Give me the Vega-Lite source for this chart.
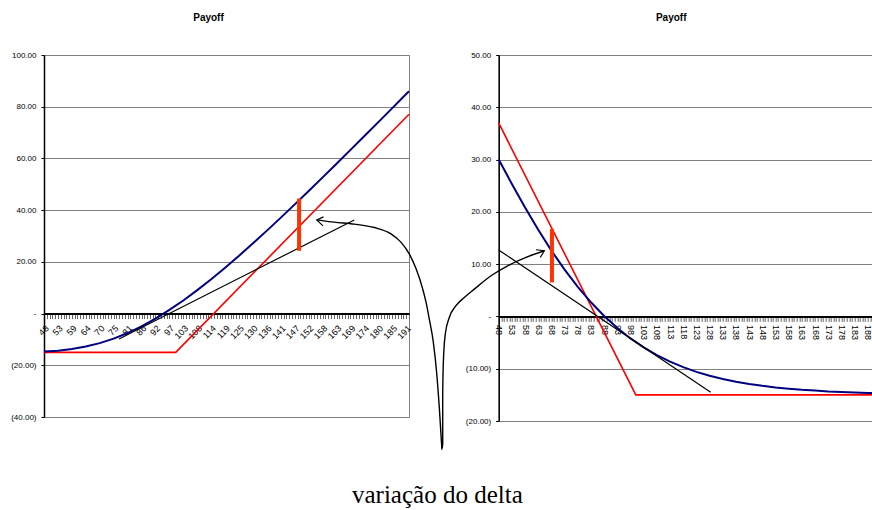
{
  "$schema": "https://vega.github.io/schema/vega-lite/v6.json",
  "background": "white",
  "padding": {"left": 10, "top": 12, "right": 0, "bottom": 0},
  "bounds": "flush",
  "spacing": 89.7,
  "title": {
    "text": "variação do delta",
    "orient": "bottom",
    "anchor": "start",
    "dx": 308,
    "font": "Liberation Serif",
    "fontSize": 25,
    "fontWeight": "normal",
    "color": "black",
    "offset": 30
  },
  "config": {
    "view": {"stroke": "#808080", "strokeWidth": 1},
    "axis": {
      "labelFont": "Liberation Sans",
      "labelFontSize": 8,
      "labelColor": "black",
      "grid": false,
      "title": null,
      "domainColor": "black",
      "tickColor": "black"
    },
    "axisY": {
      "grid": true,
      "gridColor": "#808080",
      "gridWidth": 1,
      "gridOpacity": 1,
      "domainWidth": 1.5,
      "tickSize": 3,
      "labelPadding": 5,
      "labelExpr": "datum.value < 0 ? '(' + format(-datum.value, '.2f') + ')' : (datum.value == 0 ? '-\u00a0\u00a0\u00a0\u00a0' : format(datum.value, '.2f'))"
    },
    "axisX": {
      "domainWidth": 2,
      "tickColor": "#666666",
      "tickSize": 5,
      "labelFontSize": 9,
      "labelOverlap": false,
      "labelBound": false,
      "labelFlush": false
    },
    "title": {
      "font": "Liberation Sans",
      "fontSize": 10,
      "fontWeight": "bold",
      "color": "black",
      "anchor": "middle",
      "frame": "group",
      "offset": 28
    }
  },
  "datasets": {
    "callPayoff": [
      {"S": 48, "v": -15},
      {"S": 100, "v": -15},
      {"S": 192.1, "v": 77.1}
    ],
    "callValue": [
      {"S": 48, "v": -14.71}, {"S": 53.5, "v": -14.34}, {"S": 59, "v": -13.71},
      {"S": 64.5, "v": -12.77}, {"S": 70, "v": -11.44}, {"S": 75.5, "v": -9.69},
      {"S": 81, "v": -7.53}, {"S": 86.5, "v": -4.95}, {"S": 92, "v": -1.95},
      {"S": 97.5, "v": 1.4}, {"S": 103, "v": 5.07}, {"S": 108.5, "v": 9.06},
      {"S": 114, "v": 13.28}, {"S": 119.5, "v": 17.74}, {"S": 125, "v": 22.37},
      {"S": 130.5, "v": 27.16}, {"S": 136, "v": 32.08}, {"S": 141.5, "v": 37.11},
      {"S": 147, "v": 42.23}, {"S": 152.5, "v": 47.42}, {"S": 158, "v": 52.66},
      {"S": 163.5, "v": 57.96}, {"S": 169, "v": 63.3}, {"S": 174.5, "v": 68.67},
      {"S": 180, "v": 74.05}, {"S": 185.5, "v": 79.46}, {"S": 191, "v": 84.89},
      {"S": 192.1, "v": 85.98}
    ],
    "callTangent": [
      {"S": 77.6, "v": -9.8},
      {"S": 170.5, "v": 36.2}
    ],
    "callBar": [
      {"S": 148.7, "v": 44.5},
      {"S": 148.7, "v": 24.3}
    ],
    "callArrow": [
      {"k": 0, "S": 155.7, "v": 36.25}, {"k": 1, "S": 162.6, "v": 35.36},
      {"k": 2, "S": 170.5, "v": 34.58}, {"k": 3, "S": 178.4, "v": 33.27},
      {"k": 4, "S": 185.0, "v": 30.83}, {"k": 5, "S": 188.9, "v": 27.62},
      {"k": 6, "S": 192.2, "v": 23.09}, {"k": 7, "S": 194.9, "v": 17.29},
      {"k": 8, "S": 197.5, "v": 9.55}, {"k": 9, "S": 198.8, "v": 4.53},
      {"k": 10, "S": 200.1, "v": -2.05}, {"k": 11, "S": 201.7, "v": -11.06},
      {"k": 12, "S": 203.0, "v": -22.67}, {"k": 13, "S": 204.1, "v": -36.87},
      {"k": 14, "S": 205.1, "v": -52.61}
    ],
    "callArrowHead": [
      {"k": 0, "S": 158.34, "v": 37.41},
      {"k": 1, "S": 155.7, "v": 36.25},
      {"k": 2, "S": 158.15, "v": 33.93}
    ],
    "putPayoff": [
      {"S": 48, "v": 37},
      {"S": 100, "v": -15},
      {"S": 191, "v": -15}
    ],
    "putValue": [
      {"S": 48, "v": 30.03}, {"S": 53, "v": 25.33}, {"S": 58, "v": 20.83},
      {"S": 63, "v": 16.57}, {"S": 68, "v": 12.59}, {"S": 73, "v": 8.95},
      {"S": 78, "v": 5.66}, {"S": 83, "v": 2.7}, {"S": 88, "v": 0.08},
      {"S": 93, "v": -2.22}, {"S": 98, "v": -4.21}, {"S": 103, "v": -5.92},
      {"S": 108, "v": -7.4}, {"S": 113, "v": -8.63}, {"S": 118, "v": -9.7},
      {"S": 123, "v": -10.6}, {"S": 128, "v": -11.34}, {"S": 133, "v": -11.97},
      {"S": 138, "v": -12.5}, {"S": 143, "v": -12.92}, {"S": 148, "v": -13.28},
      {"S": 153, "v": -13.58}, {"S": 158, "v": -13.82}, {"S": 163, "v": -14.04},
      {"S": 168, "v": -14.19}, {"S": 173, "v": -14.35}, {"S": 178, "v": -14.45},
      {"S": 183, "v": -14.56}, {"S": 188, "v": -14.64}, {"S": 191, "v": -14.67}
    ],
    "putTangent": [
      {"S": 48, "v": 12.7},
      {"S": 128.4, "v": -14.5}
    ],
    "putBar": [
      {"S": 68.2, "v": 16.7},
      {"S": 68.2, "v": 6.5}
    ],
    "putArrow": [
      {"k": 0, "S": 26.49, "v": -25.18}, {"k": 1, "S": 26.76, "v": -24.42},
      {"k": 2, "S": 26.76, "v": -15.49}, {"k": 3, "S": 26.98, "v": -9.12},
      {"k": 4, "S": 27.74, "v": -3.38}, {"k": 5, "S": 29.26, "v": -0.19},
      {"k": 6, "S": 31.8, "v": 2.05}, {"k": 7, "S": 34.95, "v": 3.63},
      {"k": 8, "S": 38.74, "v": 5.22}, {"k": 9, "S": 45.08, "v": 7.78},
      {"k": 10, "S": 51.41, "v": 9.69}, {"k": 11, "S": 57.71, "v": 11.15},
      {"k": 12, "S": 65.3, "v": 12.56}
    ],
    "putArrowHead": [
      {"k": 0, "S": 62.15, "v": 12.75},
      {"k": 1, "S": 65.3, "v": 12.56},
      {"k": 2, "S": 63.78, "v": 11.28}
    ]
  },
  "hconcat": [
    {
      "title": {"text": "Payoff", "dx": -18},
      "width": 365,
      "height": 362,
      "encoding": {
        "x": {
          "field": "S",
          "type": "quantitative",
          "scale": {"domain": [48, 192.1], "nice": false, "zero": false},
          "axis": {
            "offset": -103.4,
            "labelAngle": -45,
            "labelPadding": 5,
            "values": [48, 49.1, 50.2, 51.3, 52.4, 53.5, 54.6, 55.7, 56.8, 57.9, 59, 60.1, 61.2, 62.3, 63.4, 64.5, 65.6, 66.7, 67.8, 68.9, 70, 71.1, 72.2, 73.3, 74.4, 75.5, 76.6, 77.7, 78.8, 79.9, 81, 82.1, 83.2, 84.3, 85.4, 86.5, 87.6, 88.7, 89.8, 90.9, 92, 93.1, 94.2, 95.3, 96.4, 97.5, 98.6, 99.7, 100.8, 101.9, 103, 104.1, 105.2, 106.3, 107.4, 108.5, 109.6, 110.7, 111.8, 112.9, 114, 115.1, 116.2, 117.3, 118.4, 119.5, 120.6, 121.7, 122.8, 123.9, 125, 126.1, 127.2, 128.3, 129.4, 130.5, 131.6, 132.7, 133.8, 134.9, 136, 137.1, 138.2, 139.3, 140.4, 141.5, 142.6, 143.7, 144.8, 145.9, 147, 148.1, 149.2, 150.3, 151.4, 152.5, 153.6, 154.7, 155.8, 156.9, 158, 159.1, 160.2, 161.3, 162.4, 163.5, 164.6, 165.7, 166.8, 167.9, 169, 170.1, 171.2, 172.3, 173.4, 174.5, 175.6, 176.7, 177.8, 178.9, 180, 181.1, 182.2, 183.3, 184.4, 185.5, 186.6, 187.7, 188.8, 189.9, 191, 192.1],
            "labelExpr": "round((datum.value - 48) / 1.1) % 5 == 0 ? '' + floor(datum.value + 0.001) : ''"
          }
        },
        "y": {
          "field": "v",
          "type": "quantitative",
          "scale": {"domain": [-40, 100], "nice": false, "zero": false},
          "axis": {"values": [-40, -20, 0, 20, 40, 60, 80, 100]}
        }
      },
      "layer": [
        {"data": {"name": "callPayoff"}, "mark": {"type": "line", "color": "#FF0000", "strokeWidth": 1.6, "clip": false}},
        {"data": {"name": "callValue"}, "mark": {"type": "line", "color": "#000080", "strokeWidth": 2, "clip": false}},
        {"data": {"name": "callTangent"}, "mark": {"type": "line", "color": "black", "strokeWidth": 1.2, "clip": false}},
        {"data": {"name": "callBar"}, "mark": {"type": "line", "color": "#FF3300", "strokeWidth": 4, "strokeCap": "butt", "clip": false}},
        {"data": {"name": "callArrow"}, "mark": {"type": "line", "color": "black", "strokeWidth": 1.4, "clip": false, "interpolate": "monotone"}, "encoding": {"order": {"field": "k", "type": "quantitative"}}},
        {"data": {"name": "callArrowHead"}, "mark": {"type": "line", "color": "black", "strokeWidth": 1.2, "clip": false}, "encoding": {"order": {"field": "k", "type": "quantitative"}}}
      ]
    },
    {
      "title": {"text": "Payoff", "dx": -16},
      "width": 377,
      "height": 366,
      "encoding": {
        "x": {
          "field": "S",
          "type": "quantitative",
          "scale": {"domain": [48, 191], "nice": false, "zero": false},
          "axis": {
            "offset": -104.6,
            "labelAngle": 90,
            "labelPadding": 3,
            "values": [48, 49, 50, 51, 52, 53, 54, 55, 56, 57, 58, 59, 60, 61, 62, 63, 64, 65, 66, 67, 68, 69, 70, 71, 72, 73, 74, 75, 76, 77, 78, 79, 80, 81, 82, 83, 84, 85, 86, 87, 88, 89, 90, 91, 92, 93, 94, 95, 96, 97, 98, 99, 100, 101, 102, 103, 104, 105, 106, 107, 108, 109, 110, 111, 112, 113, 114, 115, 116, 117, 118, 119, 120, 121, 122, 123, 124, 125, 126, 127, 128, 129, 130, 131, 132, 133, 134, 135, 136, 137, 138, 139, 140, 141, 142, 143, 144, 145, 146, 147, 148, 149, 150, 151, 152, 153, 154, 155, 156, 157, 158, 159, 160, 161, 162, 163, 164, 165, 166, 167, 168, 169, 170, 171, 172, 173, 174, 175, 176, 177, 178, 179, 180, 181, 182, 183, 184, 185, 186, 187, 188, 189, 190, 191],
            "labelExpr": "(datum.value - 48) % 5 == 0 && datum.value <= 188 ? '' + datum.value : ''"
          }
        },
        "y": {
          "field": "v",
          "type": "quantitative",
          "scale": {"domain": [-20, 50], "nice": false, "zero": false},
          "axis": {"values": [-20, -10, 0, 10, 20, 30, 40, 50]}
        }
      },
      "layer": [
        {"data": {"name": "putPayoff"}, "mark": {"type": "line", "color": "#FF0000", "strokeWidth": 1.6, "clip": false}},
        {"data": {"name": "putValue"}, "mark": {"type": "line", "color": "#000080", "strokeWidth": 2, "clip": false}},
        {"data": {"name": "putTangent"}, "mark": {"type": "line", "color": "black", "strokeWidth": 1.2, "clip": false}},
        {"data": {"name": "putBar"}, "mark": {"type": "line", "color": "#FF3300", "strokeWidth": 4, "strokeCap": "butt", "clip": false}},
        {"data": {"name": "putArrow"}, "mark": {"type": "line", "color": "black", "strokeWidth": 1.4, "clip": false, "interpolate": "monotone"}, "encoding": {"order": {"field": "k", "type": "quantitative"}}},
        {"data": {"name": "putArrowHead"}, "mark": {"type": "line", "color": "black", "strokeWidth": 1.2, "clip": false}, "encoding": {"order": {"field": "k", "type": "quantitative"}}}
      ]
    }
  ]
}
